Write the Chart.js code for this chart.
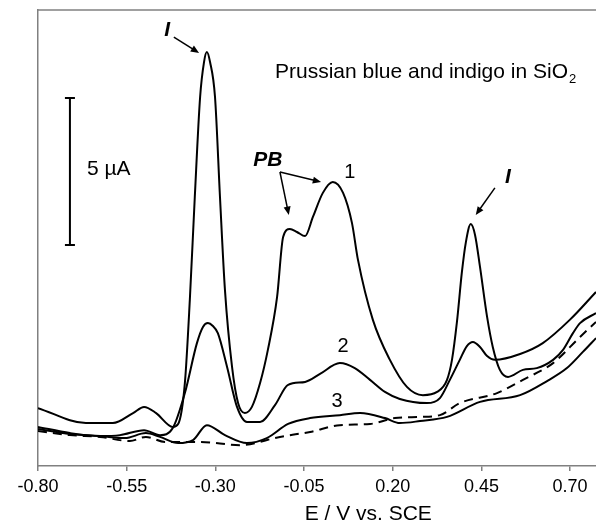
<!DOCTYPE html>
<html lang="en">
<head>
    <meta charset="UTF-8">
    <title>Prussian blue and indigo in SiO2</title>
    <script src="https://cdn.jsdelivr.net/npm/chart.js"></script>
    <style>
        body { margin: 0; padding: 0; background: #ffffff; }
        canvas { display: block; }
    </style>
</head>
<body>
    <canvas id="voltChart" width="596" height="525"></canvas>

    <script>
        // potential (V vs. SCE) and current (µA)
        const potential1 = [-0.800, -0.665, -0.589, -0.532, -0.501, -0.467, -0.420, -0.405, -0.386, -0.372, -0.358, -0.343, -0.332, -0.324, -0.315, -0.301, -0.287, -0.273, -0.253, -0.236, -0.217, -0.197, -0.174, -0.152, -0.126, -0.109, -0.090, -0.070, -0.047, -0.025, 0.003, 0.031, 0.060, 0.085, 0.102, 0.144, 0.192, 0.240, 0.285, 0.325, 0.353, 0.367, 0.381, 0.395, 0.406, 0.420, 0.432, 0.446, 0.466, 0.482, 0.502, 0.525, 0.567, 0.606, 0.652, 0.680, 0.708, 0.728, 0.773];
        const current1 = [1.97, 1.46, 1.46, 1.80, 2.01, 1.80, 1.33, 1.43, 2.82, 5.65, 9.15, 12.55, 13.74, 14.08, 13.74, 12.55, 9.15, 5.99, 3.37, 2.14, 1.80, 2.01, 2.82, 3.95, 5.75, 7.79, 8.06, 7.96, 7.82, 8.47, 9.29, 9.66, 9.29, 8.27, 7.01, 4.97, 3.61, 2.69, 2.41, 2.52, 2.93, 3.61, 4.90, 6.60, 7.60, 8.23, 7.86, 6.77, 5.07, 4.05, 3.27, 3.03, 3.27, 3.33, 3.61, 3.95, 4.52, 4.86, 5.20];

        const potential2 = [-0.800, -0.710, -0.625, -0.569, -0.501, -0.456, -0.420, -0.386, -0.352, -0.335, -0.321, -0.307, -0.293, -0.267, -0.239, -0.211, -0.174, -0.132, -0.095, -0.047, -0.005, 0.051, 0.093, 0.136, 0.178, 0.220, 0.296, 0.333, 0.361, 0.389, 0.409, 0.426, 0.446, 0.466, 0.488, 0.559, 0.623, 0.699, 0.773];
        const current2 = [1.33, 1.12, 1.02, 1.05, 1.22, 1.05, 1.29, 2.48, 4.18, 4.73, 4.86, 4.76, 4.52, 3.37, 2.01, 1.50, 1.50, 2.07, 2.76, 2.86, 3.13, 3.50, 3.33, 2.93, 2.52, 2.28, 2.14, 2.31, 2.93, 3.61, 4.08, 4.22, 4.05, 3.74, 3.61, 3.81, 4.18, 4.97, 5.92];

        const potential3 = [-0.800, -0.710, -0.625, -0.555, -0.496, -0.456, -0.405, -0.363, -0.324, -0.273, -0.211, -0.155, -0.095, -0.033, 0.051, 0.108, 0.178, 0.220, 0.277, 0.353, 0.446, 0.559, 0.635, 0.691, 0.736, 0.773];
        const current3 = [1.26, 1.09, 1.02, 0.95, 1.12, 0.99, 0.78, 0.88, 1.39, 1.05, 0.78, 0.95, 1.43, 1.63, 1.73, 1.80, 1.63, 1.46, 1.53, 1.67, 2.18, 2.41, 2.89, 3.33, 3.88, 4.35];

        const potentialBlank = [-0.800, -0.710, -0.625, -0.541, -0.496, -0.442, -0.343, -0.231, -0.118, -0.033, 0.051, 0.136, 0.206, 0.277, 0.333, 0.389, 0.494, 0.567, 0.652, 0.728, 0.773];
        const currentBlank = [1.19, 1.05, 0.99, 0.85, 0.99, 0.82, 0.82, 0.71, 0.99, 1.16, 1.39, 1.43, 1.63, 1.67, 1.73, 2.14, 2.48, 2.93, 3.50, 4.39, 4.90];

        const xTicks = [-0.80, -0.55, -0.30, -0.05, 0.20, 0.45, 0.70];

        const fontFamily = '"Liberation Sans", Arial, sans-serif';

        function toPoints(xs, ys) {
            return xs.map((x, i) => ({ x: x, y: ys[i] }));
        }

        function lineSet(xs, ys, dash) {
            return {
                data: toPoints(xs, ys),
                borderColor: '#000000',
                borderWidth: 2,
                borderDash: dash || [],
                pointRadius: 0,
                fill: false,
                cubicInterpolationMode: 'monotone'
            };
        }

        // arrow with filled head, coordinates in data units
        function arrow(ctx, xs, ys, x1, y1, x2, y2) {
            const ax = xs.getPixelForValue(x1), ay = ys.getPixelForValue(y1);
            const bx = xs.getPixelForValue(x2), by = ys.getPixelForValue(y2);
            const ang = Math.atan2(by - ay, bx - ax);
            const head = 9;
            ctx.beginPath();
            ctx.moveTo(ax, ay);
            ctx.lineTo(bx - Math.cos(ang) * head * 0.8, by - Math.sin(ang) * head * 0.8);
            ctx.stroke();
            ctx.beginPath();
            ctx.moveTo(bx, by);
            ctx.lineTo(bx - head * Math.cos(ang - 0.4), by - head * Math.sin(ang - 0.4));
            ctx.lineTo(bx - head * Math.cos(ang + 0.4), by - head * Math.sin(ang + 0.4));
            ctx.closePath();
            ctx.fill();
        }

        const annotations = {
            id: 'annotations',
            afterDraw(chart) {
                const ctx = chart.ctx;
                const xs = chart.scales.x, ys = chart.scales.y;
                const area = chart.chartArea;
                const px = v => xs.getPixelForValue(v);
                const py = v => ys.getPixelForValue(v);
                ctx.save();

                // top frame line
                ctx.strokeStyle = '#808080';
                ctx.lineWidth = 1.5;
                ctx.beginPath();
                ctx.moveTo(area.left, area.top);
                ctx.lineTo(chart.width, area.top);
                ctx.stroke();

                ctx.fillStyle = '#000000';
                ctx.strokeStyle = '#000000';
                ctx.textBaseline = 'middle';

                // scale bar 5 µA
                const barX = px(-0.710);
                ctx.lineWidth = 2;
                ctx.beginPath();
                ctx.moveTo(barX, py(7.52));
                ctx.lineTo(barX, py(12.52));
                ctx.moveTo(barX - 5, py(12.52));
                ctx.lineTo(barX + 5, py(12.52));
                ctx.moveTo(barX - 5, py(7.52));
                ctx.lineTo(barX + 5, py(7.52));
                ctx.stroke();

                ctx.font = '21px ' + fontFamily;
                ctx.textAlign = 'left';
                ctx.fillText('5 µA', px(-0.662), py(10.10));

                // sample label
                const sx = px(-0.132), sy = py(13.40);
                const mainText = 'Prussian blue and indigo in SiO';
                ctx.fillText(mainText, sx, sy);
                const w = ctx.measureText(mainText).width;
                ctx.font = '13px ' + fontFamily;
                ctx.fillText('2', sx + w + 1, sy + 7);

                // curve numbers
                ctx.font = '20px ' + fontFamily;
                ctx.textAlign = 'center';
                ctx.fillText('1', px(0.079), py(9.97));
                ctx.fillText('2', px(0.060), py(4.05));
                ctx.fillText('3', px(0.043), py(2.18));

                // peak labels
                ctx.font = 'italic bold 21px ' + fontFamily;
                ctx.fillText('I', px(-0.436), py(14.83));
                ctx.fillText('I', px(0.525), py(9.83));
                ctx.fillText('PB', px(-0.152), py(10.41));

                ctx.lineWidth = 1.5;
                arrow(ctx, xs, ys, -0.417, 14.59, -0.346, 14.05);
                arrow(ctx, xs, ys, 0.488, 9.46, 0.434, 8.54);
                arrow(ctx, xs, ys, -0.118, 10.0, -0.093, 8.54);
                arrow(ctx, xs, ys, -0.118, 10.0, -0.002, 9.66);

                // axis title
                ctx.font = '21px ' + fontFamily;
                ctx.textAlign = 'center';
                ctx.fillText('E / V vs. SCE', px(0.131), chart.height - 11);

                ctx.restore();
            }
        };

        const ctx = document.getElementById('voltChart').getContext('2d');
        const voltChart = new Chart(ctx, {
            type: 'line',
            data: {
                datasets: [
                    lineSet(potential1, current1),
                    lineSet(potential2, current2),
                    lineSet(potential3, current3),
                    lineSet(potentialBlank, currentBlank, [9, 6])
                ]
            },
            options: {
                responsive: false,
                animation: false,
                layout: { padding: { top: 10, left: 0, right: 0, bottom: 0 } },
                plugins: {
                    legend: { display: false },
                    tooltip: { enabled: false }
                },
                scales: {
                    x: {
                        type: 'linear',
                        min: -0.80,
                        max: 0.773,
                        afterBuildTicks: scale => {
                            scale.ticks = xTicks.map(v => ({ value: v }));
                        },
                        afterFit: scale => { scale.height = 59; },
                        ticks: {
                            callback: v => v.toFixed(2),
                            font: { family: fontFamily, size: 18 },
                            color: '#000000',
                            padding: 5,
                            maxRotation: 0,
                            autoSkip: false
                        },
                        grid: {
                            drawOnChartArea: false,
                            drawTicks: true,
                            tickLength: 5,
                            color: '#808080',
                            lineWidth: 1.5
                        },
                        border: { color: '#808080', width: 1.5 }
                    },
                    y: {
                        min: 0,
                        max: 15.51,
                        ticks: { display: false },
                        grid: { display: false },
                        border: { color: '#808080', width: 1.5 },
                        afterFit: scale => { scale.width = 38; }
                    }
                }
            },
            plugins: [annotations]
        });
    </script>
</body>
</html>
